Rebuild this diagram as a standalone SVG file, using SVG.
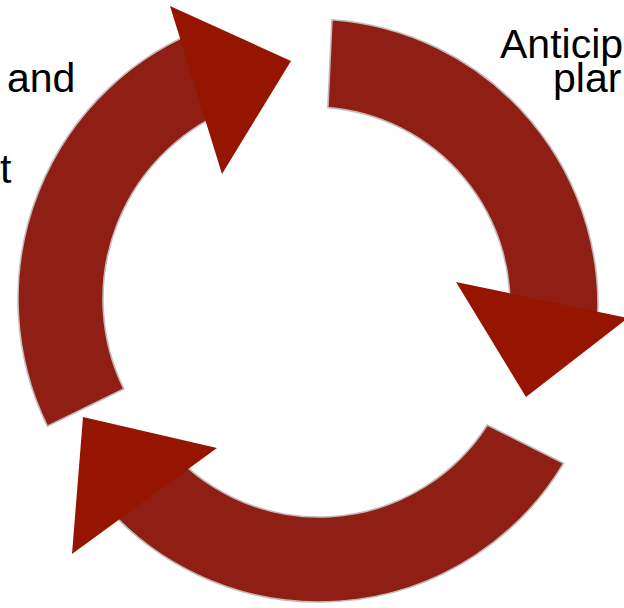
<svg xmlns="http://www.w3.org/2000/svg" width="624" height="608" viewBox="0 0 624 608">
  <style>
    .band { fill: #8F1F14; stroke: #c3bbba; stroke-width: 1.6; stroke-linejoin: miter; }
    .head { fill: #951500; }
    .label { font-family: "Liberation Sans", Arial, sans-serif; font-size: 41px; fill: #000000; }
  </style>
  <rect x="0" y="0" width="624" height="608" fill="#ffffff"/>
  <g id="connectors">
    <g id="arrow-top-right">
      <path class="band" d="M 331.95 19.70 A 286 286 0 0 1 596.43 334.90 L 508.92 325.70 A 198 198 0 0 0 327.88 107.64 Z"/>
      <polygon class="head" points="456,282 628,318 526,397"/>
    </g>
    <g id="arrow-bottom">
      <path class="band" d="M 563.54 463.36 A 285 285 0 0 1 97.51 496.36 L 163.57 442.86 A 200 200 0 0 0 487.30 425.05 Z"/>
      <polygon class="head" points="83,417 217,448 72,554"/>
    </g>
    <g id="arrow-left">
      <path class="band" d="M 47.35 426.13 A 290 290 0 0 1 206.44 27.37 L 236.21 106.98 A 205 205 0 0 0 123.75 388.87 Z"/>
      <polygon class="head" points="170,6 291,61 222,174"/>
    </g>
  </g>
  <g id="label-left">
    <text class="label" x="7" y="92">and</text>
    <text class="label" x="0" y="183">t</text>
  </g>
  <g id="label-right">
    <text class="label" x="500" y="58">Anticip</text>
    <text class="label" x="553" y="92">plar</text>
  </g>
</svg>
